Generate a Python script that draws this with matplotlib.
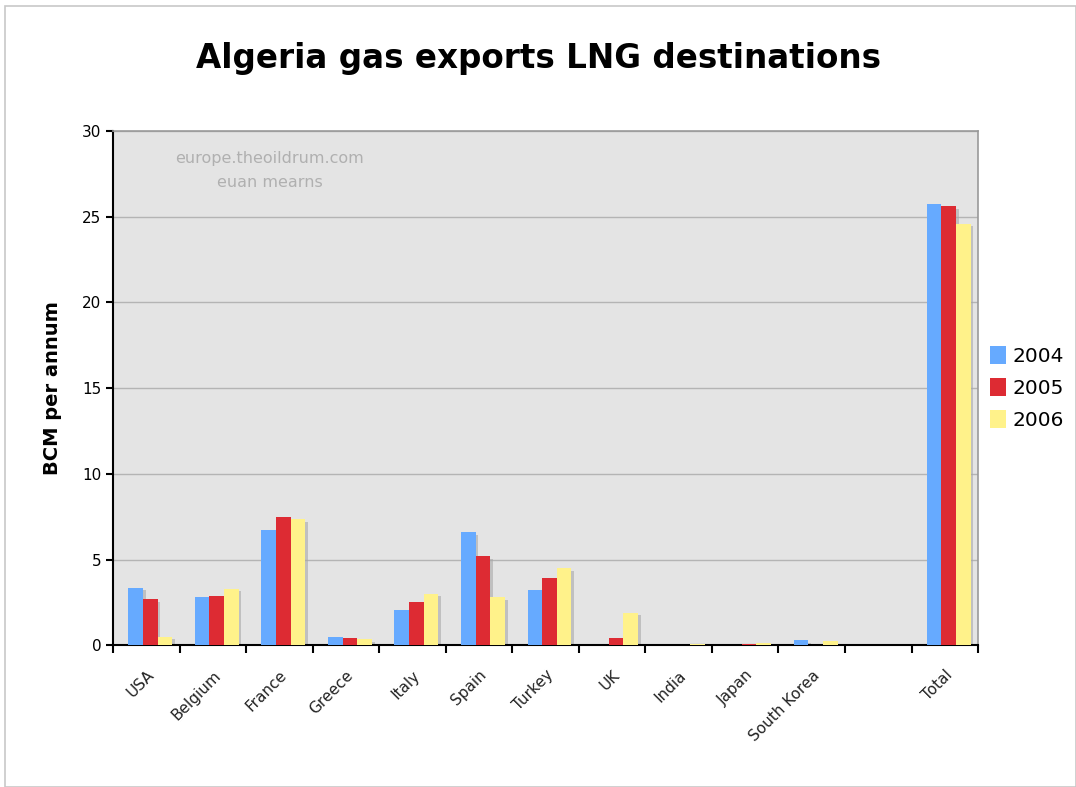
import numpy as np
import matplotlib.pyplot as plt
from matplotlib.patches import Rectangle

# données (BCM par an)
countries = ["USA", "Belgium", "France", "Greece", "Italy", "Spain", "Turkey",
             "UK", "India", "Japan", "South Korea", "", "Total"]
years = ["2004", "2005", "2006"]
v2004 = [3.35, 2.8, 6.7, 0.5, 2.05, 6.6, 3.2, 0.0, 0.0, 0.0, 0.3, 0.0, 25.75]
v2005 = [2.7, 2.9, 7.5, 0.4, 2.5, 5.2, 3.9, 0.45, 0.0, 0.1, 0.0, 0.0, 25.6]
v2006 = [0.5, 3.3, 7.35, 0.35, 3.0, 2.8, 4.5, 1.9, 0.05, 0.15, 0.25, 0.0, 24.6]
colors = ["#66aaff", "#dd2b33", "#fff28a"]

fig = plt.figure(figsize=(10.76, 7.87), dpi=100)
fig.patches.append(Rectangle((0.005, 0.0), 0.995, 0.993, transform=fig.transFigure,
                             fill=False, edgecolor="#c8c8c8", lw=1.2))
ax = fig.add_axes([0.105, 0.180, 0.804, 0.6536])
ax.set_facecolor("#e4e4e4")

x = np.arange(len(countries))
w = 0.22
for i, (vals, c, lab) in enumerate(zip([v2004, v2005, v2006], colors, years)):
    pos = x + (i - 1) * w + 0.06
    # ombre
    ombre = np.clip(np.array(vals) - 0.15, 0, None)
    ax.bar(pos + 0.04, ombre, width=w, color="#a8a8a8",
           alpha=0.6, zorder=2, linewidth=0)
    ax.bar(pos, vals, width=w, color=c, label=lab, zorder=3, linewidth=0)

ax.set_xlim(-0.5, len(countries) - 0.5)
ax.set_ylim(0, 30)
ax.set_yticks(range(0, 31, 5))
ax.yaxis.grid(True, color="#b4b4b4", lw=1, zorder=1)
ax.set_axisbelow(True)

ax.set_xticks(x)
ax.set_xticklabels(countries, rotation=45, ha="right", rotation_mode="anchor",
                   fontsize=11, color="#222222")
ax.tick_params(axis="x", length=0, pad=16)
ax.set_xticks(np.arange(-0.5, len(countries)), minor=True)
ax.tick_params(axis="x", which="minor", length=6, width=1.5, direction="out")
ax.tick_params(axis="y", length=5, width=1.5, labelsize=11)

for s in ["left", "bottom"]:
    ax.spines[s].set_color("black")
    ax.spines[s].set_linewidth(1.5)
for s in ["top", "right"]:
    ax.spines[s].set_color("#999999")
    ax.spines[s].set_linewidth(1.2)

ax.set_ylabel("BCM per annum", fontsize=14, fontweight="bold", labelpad=14)
fig.text(0.5, 0.914, "Algeria gas exports LNG destinations", ha="center",
         fontsize=23.5, fontweight="heavy")

ax.text(0.181, 0.962, "europe.theoildrum.com\neuan mearns", transform=ax.transAxes,
        ha="center", va="top", fontsize=11.5, color="#b0b0b0", linespacing=1.75)

ax.legend(loc="center left", bbox_to_anchor=(1.0, 0.5), frameon=False,
          fontsize=14.5, handlelength=0.8, handleheight=1.0, handletextpad=0.3,
          labelspacing=0.6, borderaxespad=0.2)

fig.savefig("out.png", dpi=100)
